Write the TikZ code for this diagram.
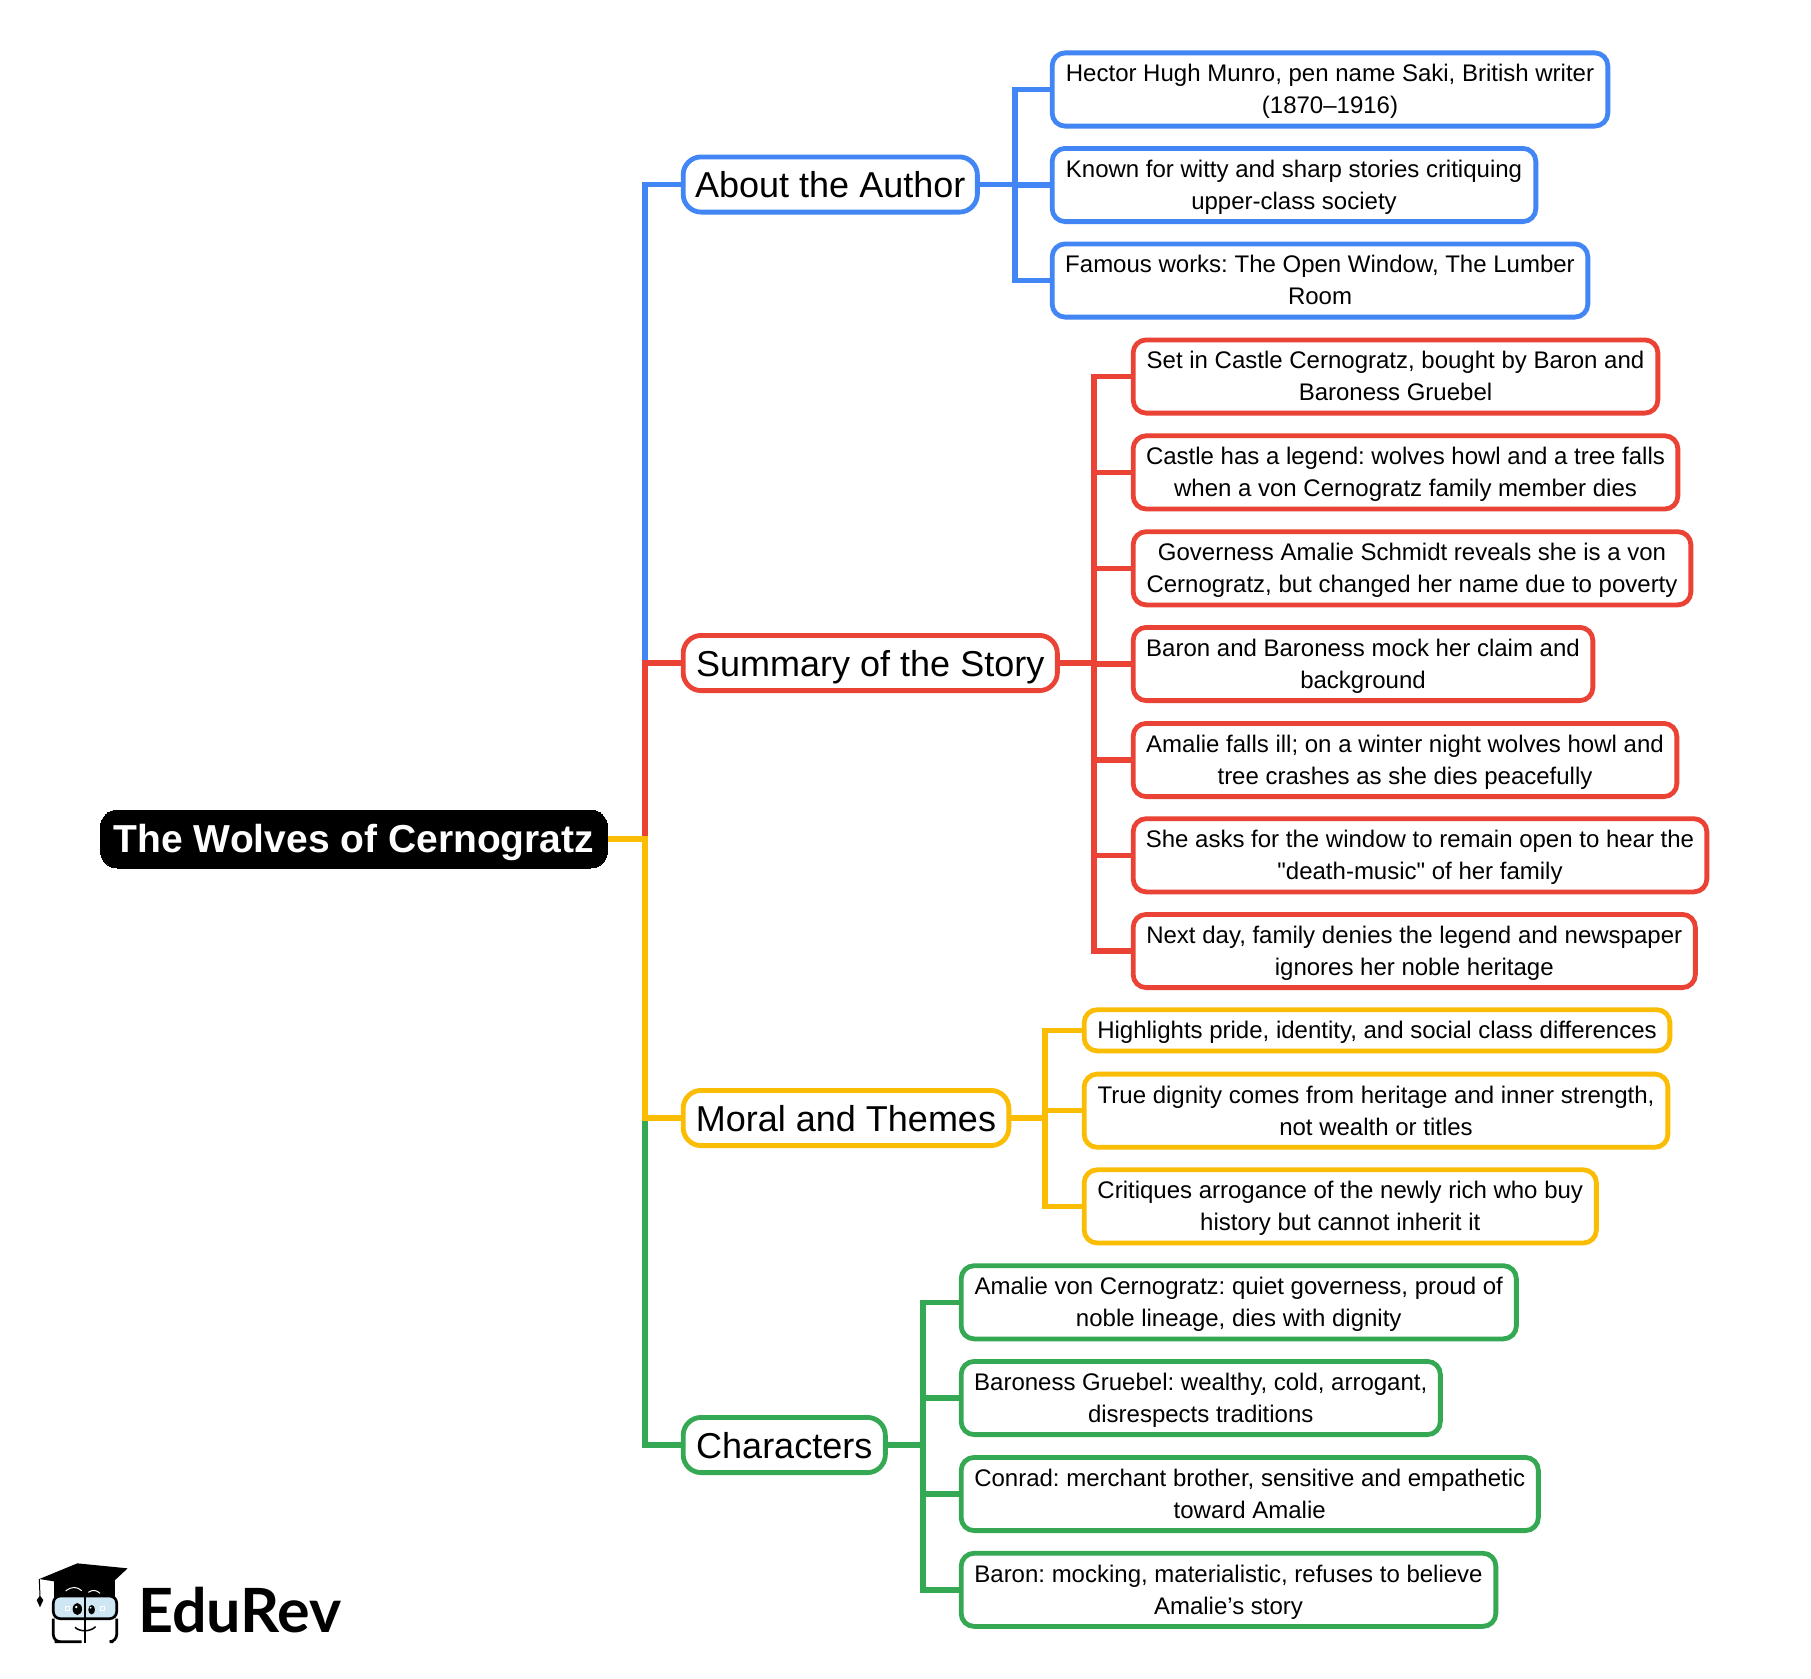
\documentclass[tikz,border=0pt]{standalone}
\usepackage{fontspec}
\setmainfont{Liberation Sans}[Ligatures=TeXOff]
\newfontfamily\logofont{Lato}
\definecolor{cblue}{HTML}{4285F4}
\definecolor{cred}{HTML}{EA4335}
\definecolor{cyel}{HTML}{FBBC04}
\definecolor{cgrn}{HTML}{34A853}
\definecolor{lens}{HTML}{CFE6F5}
% name, style, colour, left, right, centre y, outer height, text
\newcommand{\boxat}[8]{%
  \pgfmathsetmacro{\bw}{#5-#4-2.3}%
  \pgfmathsetmacro{\bh}{#7-4.8}%
  \pgfmathsetmacro{\bx}{(#4+#5)/2}%
  \node[#2,draw=#3,minimum width=\bw pt,minimum height=\bh pt] (#1) at (\bx,#6) {#8};%
}
\tikzset{
  leaf/.style={rectangle,rounded corners=13pt,line width=4.8pt,fill=white,inner sep=0pt,outer sep=0pt,align=center,text=black,font=\fontsize{24}{32}\selectfont,text height=48.6pt,text depth=0pt},
  oneline/.style={text height=16.6pt,text depth=0pt},
  branch/.style={rectangle,rounded corners=18pt,line width=4.8pt,fill=white,inner sep=0pt,outer sep=0pt,align=center,text=black,font=\fontsize{36}{42}\selectfont,text height=26pt,text depth=0pt},
  rootbox/.style={rectangle,rounded corners=17pt,fill=black,line width=0pt,inner sep=0pt,outer sep=0pt,align=center,text=white,font=\bfseries\fontsize{39}{44}\selectfont,text height=27pt,text depth=0pt},
  conn/.style={line width=5.5pt,line join=miter,line cap=butt},
}
\begin{document}
\frenchspacing
\begin{tikzpicture}[x=1pt,y=-1pt]
\useasboundingbox (0,0) rectangle (1811,1678);
\fill[white] (0,0) rectangle (1811,1678);
% root and branches
\boxat{root}{rootbox}{black}{99.35}{608.65}{839}{62.8}{The Wolves of Cernogratz}
\boxat{about}{branch}{cblue}{682}{978.5}{184.5}{60}{About the Author}
\boxat{summary}{branch}{cred}{682}{1058.5}{663}{60}{Summary of the Story}
\boxat{moral}{branch}{cyel}{682}{1010}{1118}{60}{Moral and Themes}
\boxat{chars}{branch}{cgrn}{682}{886.5}{1445}{60}{Characters}
% leaves
\boxat{a1}{leaf}{cblue}{1051}{1609}{89.5}{78}{Hector Hugh Munro, pen name Saki, British writer\\(1870–1916)}
\boxat{a2}{leaf}{cblue}{1051}{1537}{185}{78}{Known for witty and sharp stories critiquing\\upper-class society}
\boxat{a3}{leaf}{cblue}{1051}{1589}{280.5}{78}{Famous works: The Open Window, The Lumber\\Room}
\boxat{r1}{leaf}{cred}{1132}{1659}{376.5}{78}{Set in Castle Cernogratz, bought by Baron and\\Baroness Gruebel}
\boxat{r2}{leaf}{cred}{1132}{1679}{472.4}{78}{Castle has a legend: wolves howl and a tree falls\\when a von Cernogratz family member dies}
\boxat{r3}{leaf}{cred}{1132}{1692}{568.3}{78}{Governess Amalie Schmidt reveals she is a von\\Cernogratz, but changed her name due to poverty}
\boxat{r4}{leaf}{cred}{1132}{1594}{664}{78}{Baron and Baroness mock her claim and\\background}
\boxat{r5}{leaf}{cred}{1132}{1678}{760}{78}{Amalie falls ill; on a winter night wolves howl and\\tree crashes as she dies peacefully}
\boxat{r6}{leaf}{cred}{1132}{1708}{855.3}{78}{She asks for the window to remain open to hear the\\"death-music" of her family}
\boxat{r7}{leaf}{cred}{1132}{1696.5}{951}{78}{Next day, family denies the legend and newspaper\\ignores her noble heritage}
\boxat{y1}{leaf,oneline}{cyel}{1083}{1671}{1030.3}{46}{Highlights pride, identity, and social class differences}
\boxat{y2}{leaf}{cyel}{1083}{1669}{1110.7}{78}{True dignity comes from heritage and inner strength,\\not wealth or titles}
\boxat{y3}{leaf}{cyel}{1083}{1597.5}{1206.4}{78}{Critiques arrogance of the newly rich who buy\\history but cannot inherit it}
\boxat{g1}{leaf}{cgrn}{960}{1517.5}{1302.3}{78}{Amalie von Cernogratz: quiet governess, proud of\\noble lineage, dies with dignity}
\boxat{g2}{leaf}{cgrn}{960}{1441.5}{1398}{78}{Baroness Gruebel: wealthy, cold, arrogant,\\disrespects traditions}
\boxat{g3}{leaf}{cgrn}{960}{1539.5}{1494}{78}{Conrad: merchant brother, sensitive and empathetic\\toward Amalie}
\boxat{g4}{leaf}{cgrn}{960}{1497}{1589.8}{78}{Baron: mocking, materialistic, refuses to believe\\Amalie’s story}
% connector elbows
\coordinate (tA) at (645,184.5);
\coordinate (tS) at (645,663);
\coordinate (tM) at (645,1118);
\coordinate (tC) at (645,1445);
% root connectors
\draw[conn,cblue] (root.east) -| (tA) -- (about.west);
\draw[conn,cred] (root.east) -| (tS) -- (summary.west);
\draw[conn,cgrn] (root.east) -| (tC) -- (chars.west);
\draw[conn,cyel] (root.east) -| (tM) -- (moral.west);
% leaf connectors
\foreach \n/\yy in {a1/89.5,a2/185,a3/280.5}{
  \coordinate (e) at (1015,\yy);
  \draw[conn,cblue] (about.east) -| (e) -- (\n.west);
}
\foreach \n/\yy in {r1/376.5,r2/472.4,r3/568.3,r4/664,r5/760,r6/855.3,r7/951}{
  \coordinate (e) at (1094,\yy);
  \draw[conn,cred] (summary.east) -| (e) -- (\n.west);
}
\foreach \n/\yy in {y1/1030.3,y2/1110.7,y3/1206.4}{
  \coordinate (e) at (1045,\yy);
  \draw[conn,cyel] (moral.east) -| (e) -- (\n.west);
}
\foreach \n/\yy in {g1/1302.3,g2/1398,g3/1494,g4/1589.8}{
  \coordinate (e) at (923,\yy);
  \draw[conn,cgrn] (chars.east) -| (e) -- (\n.west);
}
% logo
\node[anchor=base west,inner sep=0pt,font=\logofont\bfseries\fontsize{61}{63}\selectfont,text=black] (brand) at (138,1632.5) {EduRev};
\begin{scope}[shift={(0,1530)},x=0.3333pt,y=-0.3333pt]
  \draw[black,line width=1pt] (118,147) -- (120,200);
  \fill[black] (120,197) -- (130,210) -- (120,232) -- (110,210) -- cycle;
  \fill[black] (163,150) rectangle (345,200);
  \fill[black] (118,147) -- (232,100) -- (383,115) -- (310,183) -- (200,160) -- cycle;
  \draw[white,line width=1pt] (197,183) .. controls (215,168) and (232,170) .. (245,182);
  \draw[white,line width=1pt] (265,187) .. controls (278,178) and (290,180) .. (300,190);
  \draw[black,line width=2.7pt,fill=lens,rounded corners=7pt] (160,198) rectangle (350,266);
  \draw[black,line width=2.7pt,rounded corners=7pt] (245,335) -- (185,335) -- (160,335) -- (160,266);
  \draw[black,line width=2.7pt,rounded corners=7pt] (350,266) -- (350,335) -- (340,335);
  \draw[black,line width=2.7pt] (255,198) -- (255,338);
  \fill[black] (232,237) ellipse [x radius=14,y radius=18];
  \fill[black] (275,239) ellipse [x radius=10,y radius=14];
  \fill[white] (229,231) circle (4);
  \fill[white] (272,233) circle (3);
  \draw[white,line width=0.8pt] (197,230) rectangle (209,241);
  \draw[white,line width=0.8pt] (302,230) rectangle (314,241);
  \draw[black,line width=1.5pt] (225,292) .. controls (240,306) and (270,306) .. (287,290);
\end{scope}
\end{tikzpicture}
\end{document}
